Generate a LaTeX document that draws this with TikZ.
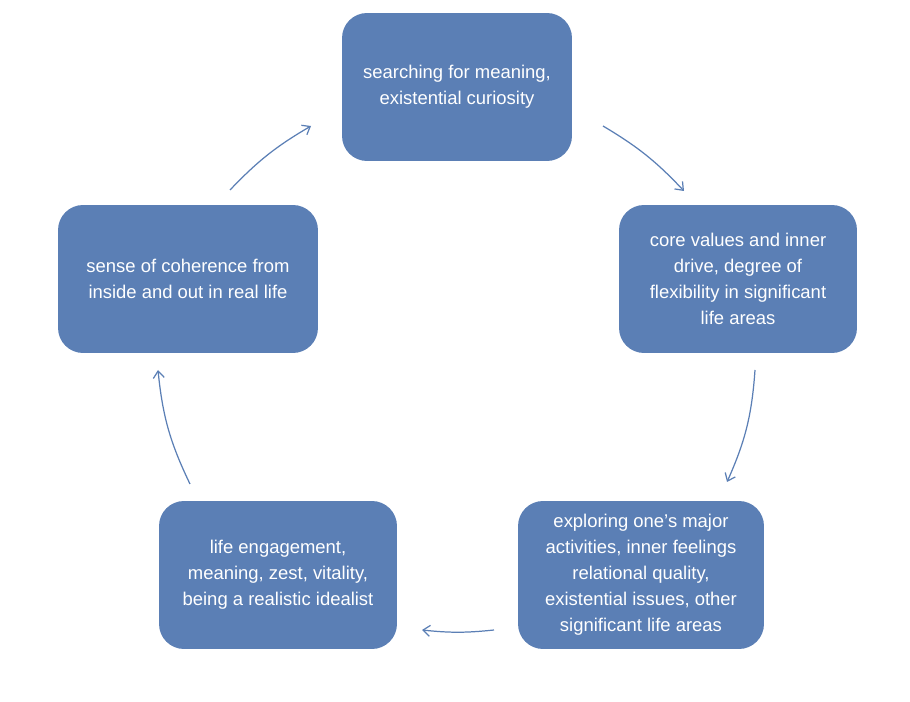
\documentclass[tikz,border=0pt]{standalone}
\usepackage{fontspec}
\setmainfont{Liberation Sans}
\usetikzlibrary{arrows.meta}
\definecolor{boxblue}{HTML}{5B7FB5}
\tikzset{%
  >={Straight Barb[width=2.2mm,length=1.4mm]},
  % Specifications for style of nodes:
       stage/.style = {rectangle, rounded corners=5mm, fill=boxblue,
                       minimum height=2.96cm, text=white, align=center,
                       font=\fontsize{10.5}{14.8}\selectfont},
        flow/.style = {->, draw=boxblue, line width=0.7pt},
                   }
\begin{document}
\begin{tikzpicture}[x=0.02cm, y=-0.02cm]
  \useasboundingbox (0,0) rectangle (910,702);
  % Specification of nodes (position, etc.)
  \node (Searching) [stage, minimum width=4.6cm] at (457,87)
       {searching for meaning,\\existential curiosity};
  \node (Values)    [stage, minimum width=4.76cm] at (738,279)
       {core values and inner\\drive, degree of\\flexibility in significant\\life areas};
  \node (Exploring) [stage, minimum width=4.92cm] at (641,575)
       {exploring one's major\\activities, inner feelings\\relational quality,\\existential issues, other\\significant life areas};
  \node (Engagement)[stage, minimum width=4.76cm] at (278,575)
       {life engagement,\\meaning, zest, vitality,\\being a realistic idealist};
  \node (Coherence) [stage, minimum width=5.2cm] at (188,279)
       {sense of coherence from\\inside and out in real life};

  % free ends of the arrows between the boxes
  \coordinate (a1) at (603,126); \coordinate (b1) at (684,191);
  \coordinate (a2) at (755,370); \coordinate (b2) at (727,482);
  \coordinate (a3) at (494,630); \coordinate (b3) at (422,630);
  \coordinate (a4) at (190,484); \coordinate (b4) at (158,370);
  \coordinate (a5) at (230,190); \coordinate (b5) at (311,126);

  \draw[flow] (a1) to[bend left=8] (b1);
  \draw[flow] (a2) to[bend left=10] (b2);
  \draw[flow] (a3) to[bend left=6] (b3);
  \draw[flow] (a4) to[bend left=10] (b4);
  \draw[flow] (a5) to[bend left=8] (b5);
\end{tikzpicture}
\end{document}
